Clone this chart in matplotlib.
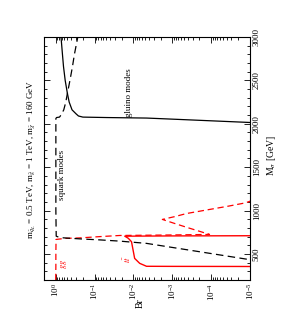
import matplotlib
matplotlib.use('Agg')
import matplotlib.pyplot as plt
from matplotlib.ticker import MultipleLocator, LogLocator, NullFormatter

plt.rcParams['font.family'] = ['Liberation Serif', 'DejaVu Serif']
plt.rcParams['mathtext.fontset'] = 'stix'

# gluino modes (solid black)
m_glu = [2010, 2015, 2030, 2045, 2060, 2066, 2072, 2077, 2090, 2115, 2161, 2250, 2350, 2500, 2660, 2800, 3000]
br_glu = [5e-6, 1e-5, 6e-5, 3.6e-4, 2.2e-3, 4.6e-3, 0.05, 0.2, 0.26, 0.30, 0.38, 0.45, 0.50, 0.57, 0.63, 0.67, 0.73]

# squark modes (dashed black)
m_sq = [400, 441, 499, 562, 622, 648, 662, 674, 687, 695, 705, 1000, 1500, 2000, 2060, 2072, 2077, 2090,
        2115, 2161, 2250, 2350, 2500, 2660, 2800, 3000]
br_sq = [3e-6, 1.26e-5, 8.3e-5, 6.5e-4, 4.6e-3, 0.0224, 0.073, 0.24, 0.70, 0.85, 0.97, 0.99, 0.99, 0.99, 0.99,
         0.95, 0.80, 0.76, 0.70, 0.62, 0.55, 0.50, 0.43, 0.37, 0.33, 0.27]

# gg (dashed red)
m_gg = [200, 357, 500, 667, 679, 685, 700, 713, 718, 722, 725, 740, 800, 850, 898, 930, 966, 1000, 1050, 1089, 1108, 1150]
br_gg = [1.0, 0.99, 0.99, 0.98, 0.6, 0.24, 0.073, 0.0224, 1.6e-3, 3.5e-4, 1.1e-4, 1.4e-4, 3.8e-4, 8.5e-4, 1.8e-3,
         8.7e-4, 4.3e-4, 1.6e-4, 3.7e-5, 1.3e-5, 1e-5, 4e-6]

# tt (solid red)
m_tt = [354, 356, 357, 358, 392, 449, 545, 641, 680, 705, 708, 710, 712]
br_tt = [1e-6, 2e-5, 1e-3, 4.6e-3, 6.9e-3, 9.3e-3, 0.0102, 0.0112, 0.0135, 0.0167, 1e-3, 1e-5, 1e-6]

fig = plt.figure(figsize=(2.94, 3.27), dpi=100)
ax = fig.add_axes([44/294, 1-280/327, 206/294, 243/327])

ax.plot(br_gg, m_gg, color='red', lw=0.9, dashes=(5, 3))
ax.plot(br_tt, m_tt, color='red', lw=1.0)
ax.plot(br_sq, m_sq, color='black', lw=0.9, dashes=(6, 3.5))
ax.plot(br_glu, m_glu, color='black', lw=0.9)

ax.set_xscale('log')
ax.set_xlim(2, 1e-5)
ax.set_ylim(200, 3000)
ax.xaxis.set_major_locator(LogLocator(base=10, numticks=10))
ax.xaxis.set_minor_locator(LogLocator(base=10, subs=range(2, 10), numticks=20))
ax.xaxis.set_minor_formatter(NullFormatter())
ax.yaxis.set_major_locator(MultipleLocator(500))
ax.yaxis.set_minor_locator(MultipleLocator(100))

ax.tick_params(which='both', direction='in', top=True, bottom=True, left=True, right=True,
               labelleft=False, labelright=True, labelsize=6.5, width=0.6)
ax.tick_params(which='major', length=4)
ax.tick_params(which='minor', length=2)
ax.tick_params(axis='x', labelrotation=90, pad=2)
ax.tick_params(axis='y', labelrotation=90, pad=2)
for lab in ax.get_yticklabels():
    lab.set_verticalalignment('center')
for s in ax.spines.values():
    s.set_linewidth(0.8)

ax.text(0.0132, 2357, 'gluino modes', rotation=90, ha='center', va='center', fontsize=6.5)
ax.text(0.69, 1414, 'squark modes', rotation=90, ha='center', va='center', fontsize=6.5)
ax.text(0.6, 380, r'$gg$', rotation=90, ha='center', va='center', fontsize=6, color='red')
ax.text(0.014, 438, r'$t\bar{t}$', rotation=90, ha='center', va='center', fontsize=6, color='red')

fig.text(31/294, 1-159/327,
         r'm$_{\tilde{q}_L}$ = 0.5 TeV, m$_{\tilde{g}}$ = 1 TeV, m$_{\tilde{\chi}}$ = 160 GeV',
         rotation=90, ha='center', va='center', fontsize=6.5)
fig.text(140/294, 1-303/327, 'Br', rotation=90, ha='center', va='center', fontsize=7)
fig.text(272/294, 1-155/327, r'M$_\sigma$ [GeV]', rotation=90, ha='center', va='center', fontsize=7)

plt.savefig('out.png', dpi=100)
